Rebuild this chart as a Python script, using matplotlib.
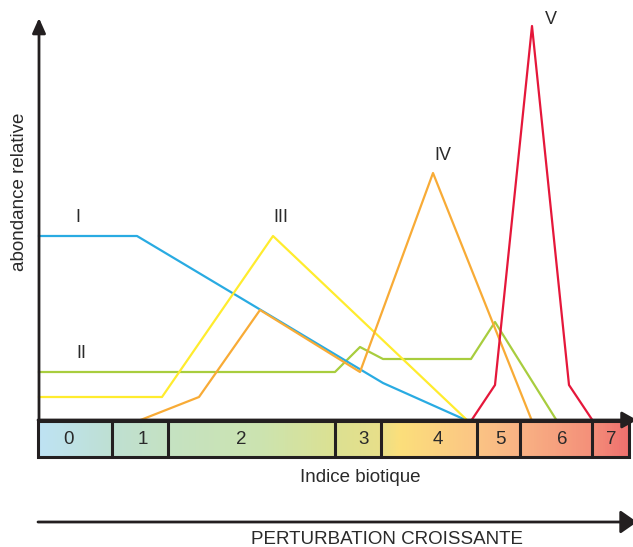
import matplotlib
matplotlib.use("Agg")
import matplotlib.pyplot as plt
import numpy as np
from matplotlib.colors import LinearSegmentedColormap
from matplotlib.patches import Rectangle

plt.rcParams['font.family'] = ['Liberation Sans', 'DejaVu Sans']

# ---- data (x = position along disturbance axis, y = relative abundance) ----
band_edges = [38, 112, 168, 335, 381, 477, 520, 592, 629]
band_labels = ["0", "1", "2", "3", "4", "5", "6", "7"]
band_label_x = [68, 143, 241, 364, 438, 500, 562, 611]

I_x = [39, 137, 383, 468]
I_y = [185, 185, 38, 0]
II_x = [39, 335, 360, 383, 471, 495, 557]
II_y = [49, 49, 74, 62, 62, 99, 0]
III_x = [39, 162, 273, 468]
III_y = [24, 24, 185, 0]
IV_x = [138, 199, 260, 360, 433, 532]
IV_y = [0, 24, 111, 49, 248, 0]
V_x = [471, 495, 532, 569, 593]
V_y = [0, 36, 395, 36, 0]

series_names = ["I", "II", "III", "IV", "V"]
label_pos = [(78, 204), (81, 68), (281, 204), (443, 266), (551, 402)]

# ---- figure ----
fig = plt.figure(figsize=(6.33, 5.47), dpi=100)
ax = fig.add_axes([0, 0, 1, 1])
ax.set_xlim(0, 633)
ax.set_ylim(-126, 421)
ax.axis('off')

ink = '#231F20'

# gradient bar
stops = [(38, '#BEE3F4'), (112, '#BFE0D2'), (168, '#C5E2C2'), (260, '#CCE4B0'),
         (335, '#DCE192'), (381, '#E8DF8A'), (400, '#FCDF7B'), (477, '#FBC585'),
         (520, '#F9B384'), (592, '#F4907A'), (629, '#EF706E')]
x0, x1 = band_edges[0], band_edges[-1]
cmap = LinearSegmentedColormap.from_list(
    'bar', [((p - x0) / (x1 - x0), c) for p, c in stops])
grad = np.linspace(0, 1, 600).reshape(1, -1)
ax.imshow(grad, cmap=cmap, aspect='auto', extent=[x0, x1, -36, 0],
          interpolation='bilinear', zorder=1)
ax.add_patch(Rectangle((x0, -36), x1 - x0, 36, fill=False, ec=ink, lw=2.2, zorder=4))
for e in band_edges[1:-1]:
    ax.plot([e, e], [-36, 0], color=ink, lw=2.2, zorder=4, solid_capstyle='butt')
for lab, lx in zip(band_labels, band_label_x):
    ax.text(lx, -19, lab, ha='center', va='center', fontsize=13.5, color='#2a2a2a', zorder=5)

# curves
ax.plot(II_x, II_y, color='#A8CD3E', lw=1.6, zorder=2)
ax.plot(I_x, I_y, color='#29ABE2', lw=1.6, zorder=2)
ax.plot(III_x, III_y, color='#FFEC2E', lw=1.6, zorder=2)
ax.plot(IV_x, IV_y, color='#F8AB36', lw=1.6, zorder=2)
ax.plot(V_x, V_y, color='#E5173A', lw=1.6, zorder=2)

for name, (tx, ty) in zip(series_names, label_pos):
    ax.text(tx, ty, name, ha='center', va='center', fontsize=13, color='#2a2a2a')

# axes arrows
def arrow(start, end, hl, hw):
    ax.annotate('', xy=end, xytext=start, annotation_clip=False, zorder=6,
                arrowprops=dict(arrowstyle=f'-|>,head_length={hl},head_width={hw}',
                                color=ink, lw=2.0, shrinkA=0, shrinkB=0,
                                mutation_scale=20))

arrow((39, -1), (39, 403), 0.45, 0.2)
arrow((38, 1), (637, 1), 0.45, 0.25)
arrow((38, -101), (637, -101), 0.5, 0.35)

ax.text(20, 229, 'abondance relative', rotation=90, ha='center', va='center',
        fontsize=13.5, color='#2a2a2a')
ax.text(360, -56, 'Indice biotique', ha='center', va='center', fontsize=13.5, color='#2a2a2a')
ax.text(387, -118, 'PERTURBATION CROISSANTE', ha='center', va='center',
        fontsize=13.5, color='#2a2a2a')

fig.savefig('out.png', dpi=100)
